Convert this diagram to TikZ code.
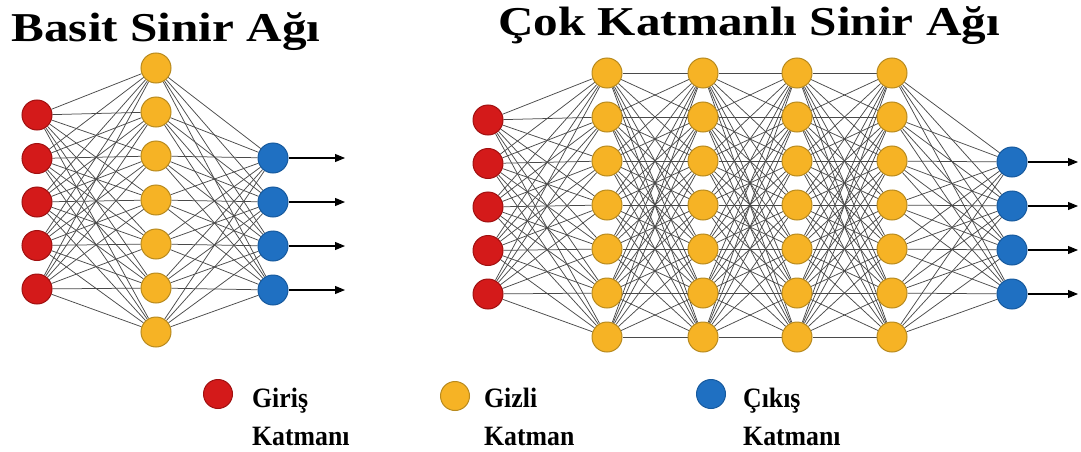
\documentclass[tikz,border=0pt]{standalone}
\usepackage{fontspec}
\setmainfont{Liberation Serif}
\usepackage{graphicx}
\usetikzlibrary{arrows.meta,backgrounds,positioning}

\definecolor{girisred}{HTML}{D41A1A}
\definecolor{girisline}{HTML}{A01010}
\definecolor{gizliyellow}{HTML}{F6B325}
\definecolor{gizliline}{HTML}{B88A1E}
\definecolor{cikisblue}{HTML}{1F70C2}
\definecolor{cikisline}{HTML}{175A9E}
\definecolor{linkgray}{HTML}{4A4A4A}

\begin{document}
\begin{tikzpicture}[x=1pt,y=-1pt,
    neuron/.style={circle,minimum size=30pt,inner sep=0pt,line width=1pt},
    giris/.style={neuron,fill=girisred,draw=girisline},
    gizli/.style={neuron,fill=gizliyellow,draw=gizliline},
    cikis/.style={neuron,fill=cikisblue,draw=cikisline},
    link/.style={draw=linkgray,line width=0.75pt},
    outarrow/.style={-{Triangle[length=10pt,width=8pt]},line width=1.1pt},
    title/.style={font=\bfseries\fontsize{41}{41}\selectfont,inner sep=0pt,anchor=base},
    legend/.style={font=\bfseries\fontsize{28}{38}\selectfont,align=left,inner sep=0pt,anchor=base west}]
  \useasboundingbox (0,0) rectangle (1081,452);

  % titles
  \node[title] (basit) at (166,42) {\scalebox{1.2}[1]{Basit Sinir Ağı}};
  \node[title] (cok) at (749,36) {\scalebox{1.2}[1]{Çok Katmanlı Sinir Ağı}};

  % simple network
  \foreach \i in {1,...,5}
    \node[giris] (bi\i) at (37,{115+43.5*(\i-1)}) {};
  \foreach \j in {1,...,7}
    \node[gizli] (bh\j) at (156,{68+44*(\j-1)}) {};
  \foreach \k in {1,...,4} {
    \node[cikis] (bo\k) at (273,{158+44*(\k-1)}) {};
    \coordinate (bend\k) at (345,{158+44*(\k-1)});
    \draw[outarrow] (bo\k) -- (bend\k);
  }
  \begin{scope}[on background layer]
    \foreach \i in {1,...,5}
      \foreach \j in {1,...,7}
        \draw[link] (bi\i) -- (bh\j);
    \foreach \j in {1,...,7}
      \foreach \k in {1,...,4}
        \draw[link] (bh\j) -- (bo\k);
  \end{scope}

  % deep network
  \foreach \i in {1,...,5}
    \node[giris] (ci\i) at (488,{120+43.5*(\i-1)}) {};
  \foreach \lx [count=\l] in {607,703,797,892}
    \foreach \j in {1,...,7}
      \node[gizli] (ch\l-\j) at (\lx,{73+44*(\j-1)}) {};
  \foreach \k in {1,...,4} {
    \node[cikis] (co\k) at (1012,{162+44*(\k-1)}) {};
    \coordinate (cend\k) at (1078,{162+44*(\k-1)});
    \draw[outarrow] (co\k) -- (cend\k);
  }
  \begin{scope}[on background layer]
    \foreach \i in {1,...,5}
      \foreach \j in {1,...,7}
        \draw[link] (ci\i) -- (ch1-\j);
    \foreach \l/\m in {1/2,2/3,3/4}
      \foreach \j in {1,...,7}
        \foreach \jj in {1,...,7}
          \draw[link] (ch\l-\j) -- (ch\m-\jj);
    \foreach \j in {1,...,7}
      \foreach \k in {1,...,4}
        \draw[link] (ch4-\j) -- (co\k);
  \end{scope}

  % legend
  \node[giris,minimum size=29pt] (lgiris) at (218,394) {};
  \node[legend] (tgiris) at (252,445) {\scalebox{0.92}[1]{Giriş}\\\scalebox{0.92}[1]{Katmanı}};
  \node[gizli,minimum size=29pt] (lgizli) at (455,396) {};
  \node[legend] (tgizli) at (484,445) {\scalebox{0.92}[1]{Gizli}\\\scalebox{0.92}[1]{Katman}};
  \node[cikis,minimum size=29pt] (lcikis) at (711,394) {};
  \node[legend] (tcikis) at (743,445) {\scalebox{0.92}[1]{Çıkış}\\\scalebox{0.92}[1]{Katmanı}};
\end{tikzpicture}
\end{document}
